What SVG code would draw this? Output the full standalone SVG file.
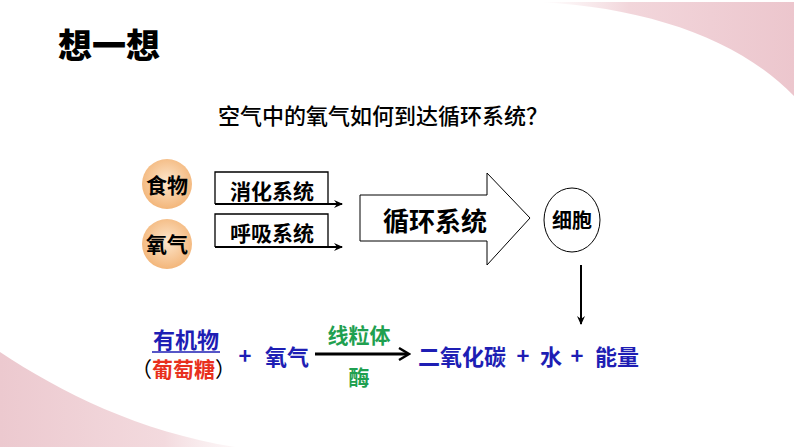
<svg xmlns="http://www.w3.org/2000/svg" width="794" height="447" viewBox="0 0 794 447">
<defs>
<style>
text{font-family:"Noto Sans CJK SC","Liberation Sans",sans-serif;}
.k{fill:#000;}
.b{fill:#1E1EB4;font-weight:bold;font-size:22px;}
.g{fill:#1FA050;font-weight:bold;font-size:21px;}
.r{fill:#E8301E;font-weight:bold;}
.line{stroke:#000;stroke-width:1.3;fill:none;}
</style>
<radialGradient id="orb" cx="50%" cy="45%" r="55%">
<stop offset="0" stop-color="#FDE6CC"/>
<stop offset="1" stop-color="#F3B67A"/>
</radialGradient>
<linearGradient id="pinkTR" x1="0" y1="0" x2="1" y2="0">
<stop offset="0" stop-color="#F4DDE1" stop-opacity="0"/>
<stop offset="0.35" stop-color="#F2D6DB"/>
<stop offset="1" stop-color="#ECC6CD"/>
</linearGradient>
<linearGradient id="pinkBL" x1="0" y1="0" x2="1" y2="0">
<stop offset="0" stop-color="#ECC9CF"/>
<stop offset="0.7" stop-color="#F3DADE"/>
<stop offset="1" stop-color="#F8EAEC" stop-opacity="0.4"/>
</linearGradient>
<marker id="ah" markerWidth="10" markerHeight="10" refX="8" refY="5" orient="auto" markerUnits="userSpaceOnUse">
<path d="M0,1 L9,5 L0,9 L3,5 Z" fill="#000"/>
</marker>
<marker id="ah2" markerWidth="14" markerHeight="14" refX="11" refY="7" orient="auto" markerUnits="userSpaceOnUse">
<path d="M2,1 L12,7 L2,13" fill="none" stroke="#000" stroke-width="2.4"/>
</marker>
</defs>
<rect width="794" height="447" fill="#fff"/>
<path d="M540,2 C650,8 740,40 794,96 L794,2 Z" fill="url(#pinkTR)"/>
<path d="M0,352 C60,392 140,432 235,447 L0,447 Z" fill="url(#pinkBL)"/>

<text x="58" y="58" font-size="34" font-weight="900" class="k">想一想</text>
<text x="218" y="124" font-size="22" font-weight="500" class="k">空气中的氧气如何到达循环系统？</text>

<g id="food">
<circle cx="167" cy="184" r="25" fill="url(#orb)"/>
<text x="167" y="193" font-size="21" font-weight="bold" text-anchor="middle" class="k">食物</text>
</g>
<g id="oxygen">
<circle cx="167" cy="244" r="25" fill="url(#orb)"/>
<text x="167" y="252" font-size="21" font-weight="bold" text-anchor="middle" class="k">氧气</text>
</g>
<g id="digest">
<path d="M215,204 L215,172 L328,172 L328,204" class="line"/>
<text x="272" y="199" font-size="21" font-weight="bold" text-anchor="middle" class="k">消化系统</text>
</g>
<g id="breath">
<path d="M215,247 L215,214 L328,214 L328,247" class="line"/>
<text x="272" y="241" font-size="21" font-weight="bold" text-anchor="middle" class="k">呼吸系统</text>
</g>
<g id="circ">
<path d="M360,195 L487,195 L487,173 L530,218 L487,265 L487,241 L360,241 Z" fill="#fff" stroke="#000" stroke-width="1"/>
<text x="435" y="231" font-size="26" font-weight="bold" text-anchor="middle" class="k">循环系统</text>
</g>
<g id="cell">
<ellipse cx="572" cy="220" rx="28" ry="32" fill="#fff" stroke="#000" stroke-width="1"/>
<text x="572" y="228" font-size="20" font-weight="bold" text-anchor="middle" class="k">细胞</text>
</g>

<g id="connectors">
<line x1="215" y1="204" x2="342" y2="204" stroke="#000" stroke-width="2" marker-end="url(#ah)"/>
<line x1="215" y1="247" x2="342" y2="247" stroke="#000" stroke-width="2" marker-end="url(#ah)"/>
<line x1="581" y1="265" x2="581" y2="324" stroke="#000" stroke-width="2" marker-end="url(#ah)"/>
<line x1="315" y1="354" x2="408" y2="354" stroke="#000" stroke-width="3" marker-end="url(#ah2)"/>
</g>

<g id="equation">
<text x="186" y="348" text-anchor="middle" class="b" font-size="21">有机物</text>
<line x1="152" y1="352" x2="220" y2="352" stroke="#1E1EB4" stroke-width="1.5"/>
<text x="131" y="377" font-size="21" class="k">（<tspan class="r">葡萄糖</tspan>）</text>
<text x="245" y="364" text-anchor="middle" class="b">+</text>
<text x="265" y="365" class="b">氧气</text>
<text x="359" y="343" text-anchor="middle" class="g">线粒体</text>
<text x="359" y="385" text-anchor="middle" class="g">酶</text>
<text x="418" y="365" class="b">二氧化碳</text>
<text x="523" y="364" text-anchor="middle" class="b">+</text>
<text x="540" y="365" class="b">水</text>
<text x="577" y="364" text-anchor="middle" class="b">+</text>
<text x="595" y="365" class="b">能量</text>
</g>
</svg>
